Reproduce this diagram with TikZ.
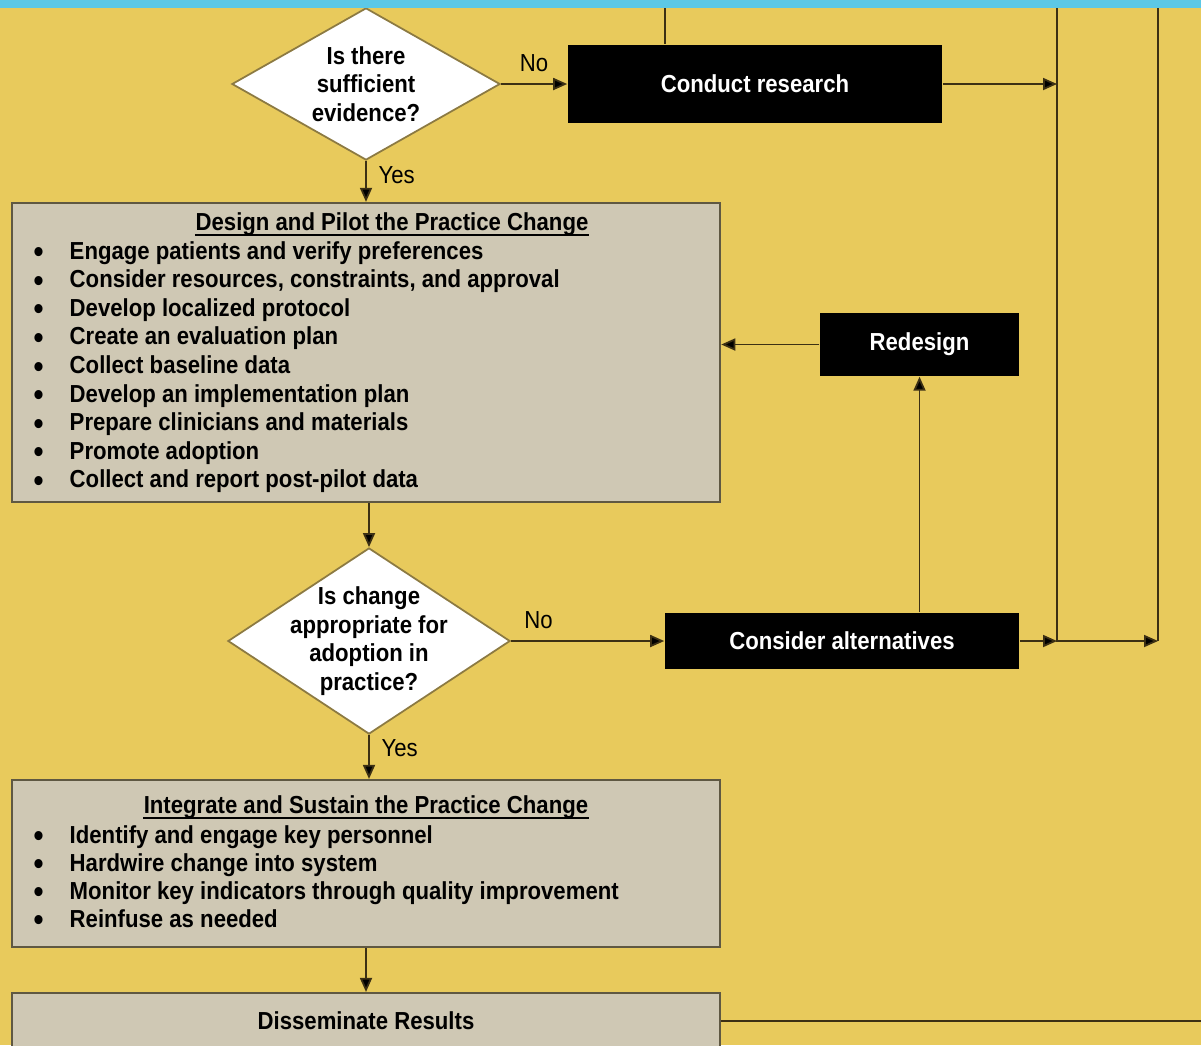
\documentclass[tikz,border=0pt]{standalone}
\usepackage{fontspec}
\setmainfont{Liberation Sans}[FakeStretch=0.9]
\usetikzlibrary{shapes.geometric,arrows.meta}
\definecolor{bgyellow}{RGB}{232,202,92}
\definecolor{topcyan}{RGB}{92,200,230}
\definecolor{boxgray}{RGB}{207,200,180}
\definecolor{boxline}{RGB}{95,88,66}
\definecolor{wirecol}{RGB}{60,48,20}
\definecolor{diaedge}{RGB}{140,122,66}
\newcommand{\bigdot}{\makebox[0.36cm][l]{\raisebox{-1pt}{\fontsize{9}{8}\selectfont\textbullet}}}
\tikzset{
	>={Triangle[length=0.14cm,width=0.12cm,fill=black]},
	every node/.style={font=\fontsize{7}{8.1}\selectfont\bfseries},
	greybox/.style={draw=boxline,line width=0.6pt,fill=boxgray,minimum width=7.08cm,inner sep=0pt},
	blackbox/.style={fill=black,text=white,inner sep=0pt},
	decision/.style={diamond,draw=diaedge,fill=white,inner sep=0pt,line width=0.5pt},
	listline/.style={anchor=base west,inner sep=0pt},
	headline/.style={anchor=base,inner sep=0pt},
	yesno/.style={font=\fontsize{7}{8.1}\selectfont\mdseries},
	conn/.style={draw=wirecol,line width=0.5pt}
}
\begin{document}
\begin{tikzpicture}[x=0.01cm,y=-0.01cm]
	\useasboundingbox[fill=bgyellow] (0,0) rectangle (1201,1045);
	\node[decision,minimum width=2.68cm,minimum height=1.52cm,
		label={[align=center]center:Is there\\sufficient\\evidence?}] (q1) at (366,84) {};
	\node[blackbox,minimum width=3.74cm,minimum height=0.78cm] (research) at (755,84) {Conduct research};
	\node[greybox,minimum height=2.99cm] (design) at (366,352.5) {};
	\node[blackbox,minimum width=1.99cm,minimum height=0.63cm] (redesign) at (919.5,344.5) {Redesign};
	\node[decision,minimum width=2.82cm,minimum height=1.86cm,
		label={[align=center]center:Is change\\appropriate for\\adoption in\\practice?}] (q2) at (369,641) {};
	\node[blackbox,minimum width=3.54cm,minimum height=0.56cm] (alt) at (842,641) {Consider alternatives};
	\node[greybox,minimum height=1.67cm] (integrate) at (366,863.5) {};
	\node[greybox,minimum height=0.56cm] (dissem) at (366,1021) {Disseminate Results};

	\node[headline] (designtitle) at (392,230.5) {Design and Pilot the Practice Change};
	\draw[line width=0.6pt] ([yshift=-1.4pt]designtitle.base west) -- ([yshift=-1.4pt]designtitle.base east);
	\foreach \t [count=\i] in {Engage patients and verify preferences,
		{Consider resources, constraints, and approval},
		Develop localized protocol, Create an evaluation plan, Collect baseline data,
		Develop an implementation plan, Prepare clinicians and materials,
		Promote adoption, Collect and report post-pilot data}
		\node[listline] (d\i) at (33,230.5+28.6*\i) {\bigdot\t};
	\node[headline] (inttitle) at (366,813) {Integrate and Sustain the Practice Change};
	\draw[line width=0.6pt] ([yshift=-1.4pt]inttitle.base west) -- ([yshift=-1.4pt]inttitle.base east);
	\foreach \t [count=\i] in {Identify and engage key personnel, Hardwire change into system,
		Monitor key indicators through quality improvement, Reinfuse as needed}
		\node[listline] (s\i) at (33,815+28*\i) {\bigdot\t};

	\coordinate (railA) at (1057,0);
	\coordinate (railB) at (1158,0);
	\coordinate (topin) at (665,0);
	\coordinate (rightend) at (1201,1021);
	\draw[conn,->] (q1.east) -- node[yesno,above] {No} (research.west);
	\draw[conn,->] (q1.south) -- node[yesno,right,pos=0.35] {Yes} (design.north);
	\draw[conn] (topin) -- (topin |- research.north);
	\draw[conn,->] (research.east) -- (research.east -| railA);
	\draw[conn,->] (railA) |- (railB |- alt.east);
	\draw[conn] (railB) -- (railB |- alt.east);
	\draw[conn,->] (alt.east) -- (alt.east -| railA);
	\draw[conn,->] (redesign.south |- alt.north) -- (redesign.south);
	\draw[conn,->] (redesign.west) -- (redesign.west -| design.east);
	\draw[conn,->] (q2.north |- design.south) -- (q2.north);
	\draw[conn,->] (q2.east) -- node[yesno,above,pos=0.18] {No} (alt.west);
	\draw[conn,->] (q2.south) -- node[yesno,right,pos=0.3] {Yes} (q2.south |- integrate.north);
	\draw[conn,->] (integrate.south) -- (dissem.north);
	\draw[conn] (dissem.east) -- (rightend);
	\fill[topcyan] (0,0) rectangle (1201,8);
\end{tikzpicture}
\end{document}
